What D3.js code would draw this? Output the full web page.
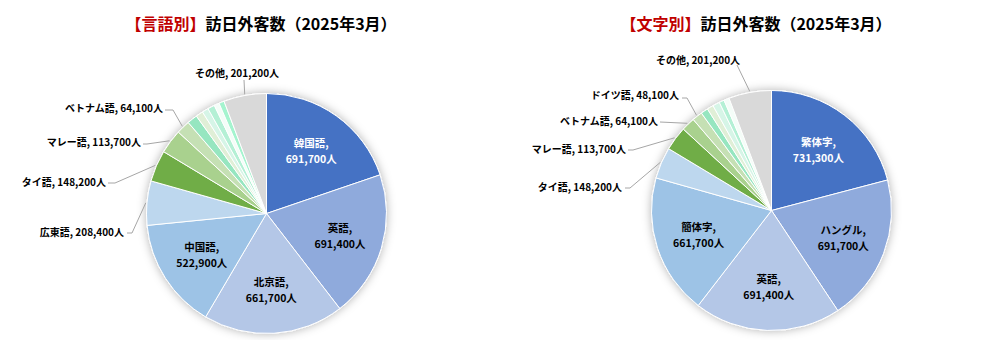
<!DOCTYPE html>
<html>
<head>
<meta charset="utf-8">
<script src="https://cdn.jsdelivr.net/npm/d3@7"></script>
<style>
  body { margin: 0; background: #fff; }
  svg { display: block; font-family: "Noto Sans CJK JP", "Noto Sans", sans-serif; }
</style>
</head>
<body>
<main></main>
<script>
// data: visitors by language (left) and by script (right), March 2025
const langNames = ['韓国語', '英語', '北京語', '中国語', '広東語', 'タイ語', 'マレー語', 'ベトナム語', 'ドイツ語',
  '小区分1', '小区分2', '小区分3', '小区分4', '小区分5', 'その他'];
const langValues = [691700, 691400, 661700, 522900, 208400, 148200, 113700, 64100, 48100,
  34000, 30000, 33000, 24000, 25000, 201200];

const scriptNames = ['繁体字', 'ハングル', '英語', '簡体字', 'タイ語', 'マレー語', 'ベトナム語', 'ドイツ語',
  '小区分1', '小区分2', '小区分3', '小区分4', '小区分5', 'その他'];
const scriptValues = [731300, 691700, 691400, 661700, 148200, 113700, 64100, 48100,
  34000, 30000, 33000, 24000, 25000, 201200];

// colors by slice position, "その他" is always grey
const palette = ['#4472C4', '#8FAADC', '#B4C7E7', '#9DC3E6', '#BDD7EE', '#70AD47', '#A9D18E', '#C5E0B4',
  '#96E6C0', '#E0EFD7', '#D6F5E7', '#B4F0D5', '#F4FDF8', '#A5F4CF'];
const otherColor = '#D9D9D9';

const width = 987;
const height = 340;
const radius = 120;

const svg = d3.select('main')
  .append('svg')
  .attr('width', width)
  .attr('height', height);

// soft shadow round the pies
const shadow = svg.append('defs').append('filter')
  .attr('id', 'shadow')
  .attr('x', '-20%').attr('y', '-20%')
  .attr('width', '140%').attr('height', '140%');
shadow.append('feDropShadow')
  .attr('dx', 0).attr('dy', 0)
  .attr('stdDeviation', 5)
  .attr('flood-color', '#000')
  .attr('flood-opacity', 0.3);

// chart layouts (label placement)
const charts = [
  {
    tag: '【言語別】',
    titleX: 261,
    cx: 266.5, cy: 213.5,
    names: langNames, values: langValues,
    inside: 4,
    outside: {
      '広東語': { x: 124, y: 232, start: [127, 233], stub: [132, 233] },
      'タイ語': { x: 106, y: 182, start: [108, 183], stub: [115, 183] },
      'マレー語': { x: 141, y: 142, start: [143, 144], stub: [147, 144] },
      'ベトナム語': { x: 163, y: 108, start: [165, 110], stub: [173, 110] },
      'その他': { x: 237, y: 73, anchor: 'middle', start: [244, 80] }
    }
  },
  {
    tag: '【文字別】',
    titleX: 756,
    cx: 771.5, cy: 210.5,
    names: scriptNames, values: scriptValues,
    inside: 4,
    outside: {
      'タイ語': { x: 622, y: 187, start: [625, 188], stub: [630, 188] },
      'マレー語': { x: 626, y: 149, start: [628, 150], stub: [633, 150] },
      'ベトナム語': { x: 658, y: 121, start: [660, 122] },
      'ドイツ語': { x: 679, y: 95, start: [682, 98], stub: [687, 98] },
      'その他': { x: 698, y: 60, anchor: 'middle', start: [737, 65] }
    }
  }
];

const pie = d3.pie().sort(null).value(d => d.value);
const arc = d3.arc().innerRadius(0).outerRadius(radius);
const fmt = d3.format(',');

charts.forEach(chart => {
  const rows = chart.names.map((name, i) => ({ name, value: chart.values[i], i }));
  const slices = pie(rows);
  const color = d => d.data.name === 'その他' ? otherColor : palette[d.data.i];

  // title
  const title = svg.append('text')
    .attr('x', chart.titleX)
    .attr('y', 30)
    .attr('text-anchor', 'middle')
    .attr('font-size', 16)
    .attr('font-weight', 'bold');
  title.append('tspan').attr('fill', '#C00000').text(chart.tag);
  title.append('tspan').attr('fill', '#000').text('訪日外客数（2025年3月）');

  const g = svg.append('g')
    .attr('transform', `translate(${chart.cx}, ${chart.cy})`);

  g.append('g')
    .attr('filter', 'url(#shadow)')
    .selectAll('path')
    .data(slices)
    .enter()
    .append('path')
    .attr('d', arc)
    .attr('fill', color)
    .attr('stroke', '#fff')
    .attr('stroke-width', 1);

  // labels inside the big slices
  const labelArc = d3.arc().innerRadius(radius * 0.64).outerRadius(radius * 0.64);
  slices.slice(0, chart.inside).forEach((d, k) => {
    const [x, y] = labelArc.centroid(d);
    const t = g.append('text')
      .attr('text-anchor', 'middle')
      .attr('font-size', 10.5)
      .attr('font-weight', 'bold')
      .attr('fill', k === 0 ? '#fff' : '#000');
    t.append('tspan').attr('x', x).attr('y', y - 4).text(d.data.name + ',');
    t.append('tspan').attr('x', x).attr('y', y + 12).text(fmt(d.data.value) + '人');
  });

  // labels outside with leader lines
  const edgeArc = d3.arc().innerRadius(radius * 1.01).outerRadius(radius * 1.01);
  slices.forEach(d => {
    const lab = chart.outside[d.data.name];
    if (!lab) return;
    const [ex, ey] = edgeArc.centroid(d);
    const pts = [lab.start];
    if (lab.stub) pts.push(lab.stub);
    pts.push([ex + chart.cx, ey + chart.cy]);

    svg.append('path')
      .attr('d', d3.line()(pts))
      .attr('fill', 'none')
      .attr('stroke', '#A6A6A6')
      .attr('stroke-width', 1);

    svg.append('text')
      .attr('x', lab.x)
      .attr('y', lab.y + 3.5)
      .attr('text-anchor', lab.anchor || 'end')
      .attr('font-size', 10)
      .attr('font-weight', 'bold')
      .attr('fill', '#000')
      .text(`${d.data.name}, ${fmt(d.data.value)}人`);
  });
});
</script>
</body>
</html>
